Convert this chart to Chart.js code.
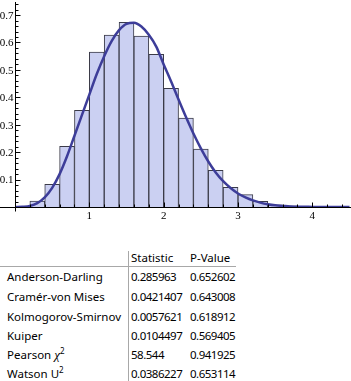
<!DOCTYPE html>
<html>
<head>
<meta charset="utf-8">
<script src="https://cdn.jsdelivr.net/npm/chart.js@4"></script>
<style>
    html, body { margin: 0; padding: 0; background: #fff; }
    #page { position: relative; width: 351px; height: 381px; overflow: hidden; }
    #chart-box { position: absolute; left: 0; top: 0; width: 351px; height: 225px; }
    .t { position: absolute; font-family: "Noto Sans", "Open Sans", sans-serif; font-size: 11.5px; color: #000; white-space: nowrap; line-height: 14px; }
    .t.num { letter-spacing: -0.5px; }
    .t sup { font-size: 8px; line-height: 0; vertical-align: 0; position: relative; top: -5px; }
    .t i { font-family: "Liberation Serif", serif; font-size: 13px; }
    .hl { position: absolute; background: #a8a8a8; }
</style>
</head>
<body>
<div id="page">
    <div id="chart-box"><canvas id="hist" width="351" height="225"></canvas></div>
    <div id="table"></div>
</div>
<script>
// histogram bins (centres) and heights
const binCenters = [0.3, 0.5, 0.7, 0.9, 1.1, 1.3, 1.5, 1.7, 1.9, 2.1, 2.3, 2.5, 2.7, 2.9, 3.1, 3.3, 3.5, 3.7, 3.9];
const binHeights = [0.022, 0.083, 0.221, 0.353, 0.565, 0.627, 0.674, 0.623, 0.557, 0.433, 0.324, 0.211, 0.134, 0.072, 0.045, 0.021, 0.008, 0.004, 0.002];

// fitted density curve
const curveX = [0, 0.1, 0.2, 0.3, 0.4, 0.5, 0.6, 0.7, 0.8, 0.9, 1.0, 1.1, 1.2, 1.3, 1.4, 1.5, 1.6, 1.7, 1.8, 1.9, 2.0, 2.1, 2.2, 2.3, 2.4, 2.5, 2.6, 2.7, 2.8, 2.9, 3.0, 3.1, 3.2, 3.3, 3.4, 3.5, 3.6, 3.7, 3.8, 3.9, 4.0, 4.2, 4.5];
const curveY = [0, 0.001, 0.004, 0.014, 0.035, 0.070, 0.120, 0.185, 0.260, 0.335, 0.410, 0.485, 0.550, 0.605, 0.645, 0.668, 0.672, 0.658, 0.628, 0.585, 0.520, 0.458, 0.392, 0.328, 0.268, 0.214, 0.166, 0.126, 0.094, 0.069, 0.049, 0.035, 0.024, 0.016, 0.010, 0.006, 0.004, 0.002, 0.001, 0.001, 0, 0, 0];

const xTickLabels = ['1', '2', '3', '4'];
const yTickLabels = ['0.1', '0.2', '0.3', '0.4', '0.5', '0.6', '0.7'];

// goodness-of-fit table
const testNames = ['Anderson-Darling', 'Cramér-von Mises', 'Kolmogorov-Smirnov', 'Kuiper', 'Pearson <i>χ</i><sup>2</sup>', 'Watson U<sup>2</sup>'];
const statValues = ['0.285963', '0.0421407', '0.0057621', '0.0104497', '58.544', '0.0386227'];
const pValues = ['0.652602', '0.643008', '0.618912', '0.569405', '0.941925', '0.653114'];
const tableHeaders = ['Statistic', 'P-Value'];

const axesPlugin = {
    id: 'mmaAxes',
    afterDraw(chart) {
        const ctx = chart.ctx;
        const xs = chart.scales.x;
        const ys = chart.scales.y;
        const x0 = Math.round(xs.getPixelForValue(0)) + 0.5;
        const y0 = Math.round(ys.getPixelForValue(0)) + 0.5;
        ctx.save();
        ctx.strokeStyle = '#000';
        ctx.lineWidth = 1;
        ctx.beginPath();
        ctx.moveTo(0, y0); ctx.lineTo(chart.width, y0);
        ctx.moveTo(x0, 2); ctx.lineTo(x0, y0 + 4);
        // y ticks
        for (let i = 1; i <= 37; i++) {
            const v = i * 0.02;
            const py = Math.round(ys.getPixelForValue(v)) + 0.5;
            const major = i % 5 === 0;
            ctx.moveTo(x0, py); ctx.lineTo(x0 + (major ? 5 : 3), py);
        }
        // x ticks
        for (let i = 1; i <= 22; i++) {
            const v = i * 0.2;
            const px = Math.round(xs.getPixelForValue(v)) + 0.5;
            const major = i % 5 === 0;
            ctx.moveTo(px, y0); ctx.lineTo(px, y0 - (major ? 5 : 3));
        }
        ctx.stroke();

        ctx.fillStyle = '#000';
        ctx.font = '11px "Liberation Serif", serif';
        ctx.textAlign = 'right';
        ctx.textBaseline = 'middle';
        yTickLabels.forEach(lbl => {
            ctx.fillText(lbl, x0 - 2, ys.getPixelForValue(parseFloat(lbl)) + 1);
        });
        ctx.textAlign = 'center';
        ctx.textBaseline = 'top';
        xTickLabels.forEach(lbl => {
            ctx.fillText(lbl, xs.getPixelForValue(parseFloat(lbl)), y0 + 3);
        });
        ctx.restore();
    }
};

new Chart(document.getElementById('hist').getContext('2d'), {
    data: {
        datasets: [{
            type: 'line',
            data: curveX.map((x, i) => ({ x: x, y: curveY[i] })),
            borderColor: '#3d3d99',
            borderWidth: 2.5,
            pointRadius: 0,
            cubicInterpolationMode: 'monotone',
            fill: false,
            order: 0
        }, {
            type: 'bar',
            data: binCenters.map((x, i) => ({ x: x, y: binHeights[i] })),
            backgroundColor: '#cbd0f2',
            borderColor: '#3b3b48',
            borderWidth: 1,
            barPercentage: 1,
            categoryPercentage: 1,
            grouped: false,
            order: 1
        }]
    },
    options: {
        responsive: false,
        animation: false,
        devicePixelRatio: 1,
        layout: { padding: { left: 15, right: 0, top: 0, bottom: 18 } },
        scales: {
            x: { type: 'linear', min: 0, max: 4.52, offset: false, display: false },
            y: { type: 'linear', min: 0, max: 0.755, display: false }
        },
        plugins: { legend: { display: false }, tooltip: { enabled: false } }
    },
    plugins: [axesPlugin]
});

function buildTable() {
    const table = document.getElementById('table');
    const rowY = [277, 297, 316.5, 335.5, 355, 374];
    let html = '';
    html += `<div class="t" style="left:131px;top:251px">${tableHeaders[0]}</div>`;
    html += `<div class="t" style="left:190px;top:251px">${tableHeaders[1]}</div>`;
    html += '<div class="hl" style="left:0;top:266px;width:236px;height:1px"></div>';
    html += '<div class="hl" style="left:128px;top:251px;width:1px;height:130px"></div>';
    testNames.forEach((name, i) => {
        const top = rowY[i] - 7;
        html += `<div class="t" style="left:7px;top:${top}px">${name}</div>`;
        html += `<div class="t num" style="left:131px;top:${top}px">${statValues[i]}</div>`;
        html += `<div class="t num" style="left:190px;top:${top}px">${pValues[i]}</div>`;
    });
    table.innerHTML = html;
}

buildTable();
</script>
</body>
</html>
